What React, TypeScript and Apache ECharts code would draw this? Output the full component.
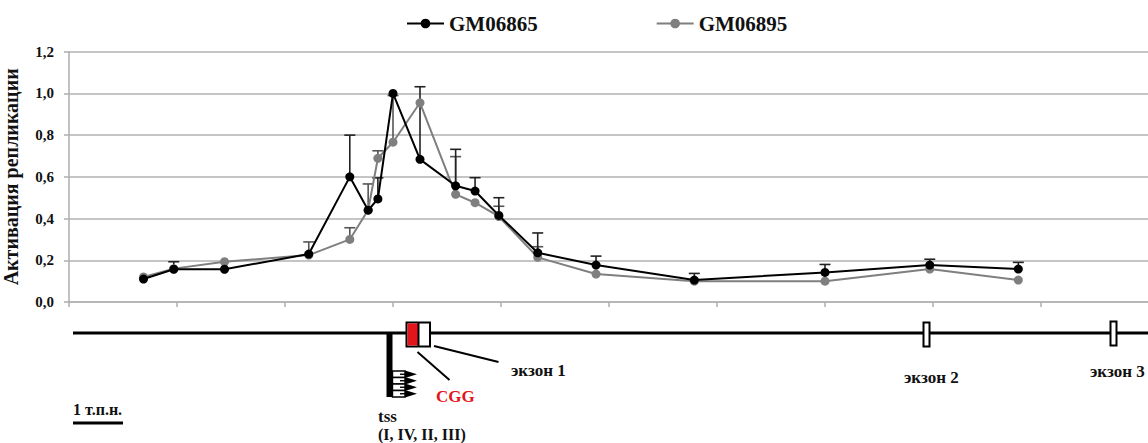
import React, { useEffect, useRef } from "react";
import * as echarts from "echarts";

// Positions along the locus, in axis-tick units
const positions = [0.69, 0.97, 1.44, 2.22, 2.6, 2.77, 2.86, 3.0, 3.25, 3.58, 3.76, 3.98, 4.34, 4.88, 5.79, 7.0, 7.97, 8.79];

// Replication initiation, GM06865 (black)
const gm06865 = [0.11, 0.157, 0.157, 0.23, 0.6, 0.44, 0.494, 1.0, 0.684, 0.557, 0.532, 0.415, 0.236, 0.177, 0.105, 0.142, 0.177, 0.158];
const gm06865Upper = [null, 0.193, null, null, 0.8, null, 0.595, null, 1.032, 0.732, 0.596, 0.5, 0.331, 0.22, 0.137, 0.18, 0.205, 0.19];

// Replication initiation, GM06895 (grey)
const gm06895 = [0.12, 0.16, 0.193, 0.225, 0.3, 0.441, 0.689, 0.766, 0.955, 0.516, 0.476, 0.41, 0.214, 0.134, 0.1, 0.1, 0.158, 0.105];
const gm06895Upper = [null, null, null, 0.288, 0.356, 0.566, 0.725, 0.99, null, 0.697, null, 0.459, 0.265, null, null, null, null, null];

const yTicks = [0, 0.2, 0.4, 0.6, 0.8, 1.0, 1.2];

const SERIF = "'Liberation Serif', 'DejaVu Serif', serif";
const BLACK = "#000000";
const GREY = "#7f7f7f";
const GRIDC = "#b2b2b2";

function pairs(vals: number[]) {
  return positions.map((x, i) => [x, vals[i]]);
}

function errData(vals: number[], upper: (number | null)[]) {
  const out: number[][] = [];
  positions.forEach((x, i) => {
    const u = upper[i];
    if (u != null) out.push([x, vals[i], u]);
  });
  return out;
}

function errorSeries(data: number[][], color: string) {
  return {
    type: "custom",
    z: 1,
    silent: true,
    data,
    encode: { x: 0, y: [1, 2] },
    renderItem: (_p: any, api: any) => {
      const x = api.value(0);
      const p0 = api.coord([x, api.value(1)]);
      const p1 = api.coord([x, api.value(2)]);
      const st = { stroke: color, lineWidth: 1.6 };
      return {
        type: "group",
        children: [
          { type: "line", shape: { x1: p0[0], y1: p0[1], x2: p1[0], y2: p1[1] }, style: st },
          { type: "line", shape: { x1: p1[0] - 5.5, y1: p1[1], x2: p1[0] + 5.5, y2: p1[1] }, style: st },
        ],
      };
    },
  };
}

const txt = (x: number, y: number, text: string, size: number, extra: any = {}) => ({
  type: "text",
  x,
  y,
  style: {
    text,
    fontFamily: SERIF,
    fontWeight: "bold",
    fontSize: size,
    fill: "#111",
    textVerticalAlign: "middle",
    ...extra,
  },
});

function geneMap() {
  const els: any[] = [];
  // genomic line
  els.push({ type: "line", shape: { x1: 73, y1: 333, x2: 1148, y2: 333 }, style: { stroke: BLACK, lineWidth: 3 } });
  // transcription start sites
  els.push({ type: "rect", shape: { x: 386.5, y: 333, width: 6, height: 64 }, style: { fill: BLACK } });
  const rowsY = [371, 377.5, 384, 390.5];
  rowsY.forEach((y) => {
    els.push({ type: "rect", shape: { x: 392.5, y, width: 12.5, height: 6.5 }, style: { fill: "#fff", stroke: BLACK, lineWidth: 1.4 } });
    const cy = y + 3.25;
    els.push({ type: "line", shape: { x1: 400, y1: cy, x2: 410, y2: cy }, style: { stroke: BLACK, lineWidth: 1.4 } });
    els.push({ type: "polygon", shape: { points: [[405, cy - 3.8], [417, cy], [405, cy + 3.8]] }, style: { fill: BLACK } });
  });
  // exon 1 with CGG repeat
  els.push({ type: "rect", shape: { x: 406.5, y: 322.5, width: 23.5, height: 24 }, style: { fill: "#fff", stroke: BLACK, lineWidth: 2 } });
  els.push({ type: "rect", shape: { x: 407.5, y: 323.5, width: 10.5, height: 22 }, style: { fill: "#e3151c" } });
  els.push({ type: "line", shape: { x1: 418.5, y1: 323, x2: 418.5, y2: 346 }, style: { stroke: BLACK, lineWidth: 2 } });
  // callout lines
  els.push({ type: "line", shape: { x1: 417.5, y1: 352, x2: 449.5, y2: 380 }, style: { stroke: BLACK, lineWidth: 2 } });
  els.push({ type: "line", shape: { x1: 434, y1: 346, x2: 498.5, y2: 362 }, style: { stroke: BLACK, lineWidth: 2 } });
  // exons 2 and 3
  els.push({ type: "rect", shape: { x: 923.5, y: 322.5, width: 6, height: 24 }, style: { fill: "#fff", stroke: BLACK, lineWidth: 2 } });
  els.push({ type: "rect", shape: { x: 1110.5, y: 321.5, width: 6, height: 24 }, style: { fill: "#fff", stroke: BLACK, lineWidth: 2 } });
  // labels
  els.push(txt(511, 370, "экзон 1", 17));
  els.push(txt(904, 377, "экзон 2", 17));
  els.push(txt(1090, 371, "экзон 3", 17));
  els.push(txt(436, 396, "CGG", 17, { fill: "#e3151c" }));
  els.push(txt(378, 416, "tss", 17));
  els.push(txt(378, 434, "(I, IV, II, III)", 16));
  els.push(txt(73, 409, "1 т.п.н.", 16));
  // scale bar
  els.push({ type: "line", shape: { x1: 73, y1: 423, x2: 123, y2: 423 }, style: { stroke: BLACK, lineWidth: 3 } });
  return els;
}

export default function App() {
  const ref = useRef<HTMLDivElement>(null);

  useEffect(() => {
    if (!ref.current) return;
    const chart = echarts.init(ref.current, null, { renderer: "svg" });
    chart.setOption({
      animation: false,
      backgroundColor: "#ffffff",
      textStyle: { fontFamily: SERIF },
      legend: {
        left: 401,
        top: 8,
        itemWidth: 37,
        itemHeight: 12,
        itemGap: 118,
        textStyle: { fontFamily: SERIF, fontWeight: "bold", fontSize: 21, color: "#111" },
        data: ["GM06865", "GM06895"],
      },
      grid: {
        left: 69,
        top: 51.7,
        width: 1080,
        height: 250.3,
        containLabel: false,
        outerBoundsMode: "none",
      },
      xAxis: {
        type: "value",
        min: 0,
        max: 10,
        interval: 1,
        axisLine: { show: true, onZero: false, lineStyle: { color: GRIDC, width: 1.6 } },
        axisTick: { show: true, length: 5, lineStyle: { color: GRIDC, width: 1.6 } },
        axisLabel: { show: false },
        splitLine: { show: false },
      },
      yAxis: {
        type: "value",
        min: yTicks[0],
        max: yTicks[yTicks.length - 1],
        interval: 0.2,
        name: "Активация репликации",
        nameLocation: "middle",
        nameRotate: 90,
        nameGap: 48,
        nameTextStyle: { fontFamily: SERIF, fontWeight: "bold", fontSize: 20, color: "#111" },
        axisLine: { show: true, lineStyle: { color: GRIDC, width: 1.6 } },
        axisTick: { show: true, length: 5, lineStyle: { color: GRIDC, width: 1.6 } },
        axisLabel: {
          margin: 15,
          fontFamily: SERIF,
          fontWeight: "bold",
          fontSize: 15,
          color: "#111",
          formatter: (v: number) => v.toFixed(1).replace(".", ","),
        },
        splitLine: { show: true, lineStyle: { color: GRIDC, width: 1.6 } },
      },
      series: [
        errorSeries(errData(gm06895, gm06895Upper), "#555555"),
        errorSeries(errData(gm06865, gm06865Upper), "#222222"),
        {
          name: "GM06895",
          type: "line",
          z: 3,
          data: pairs(gm06895),
          symbol: "circle",
          symbolSize: 9,
          itemStyle: { color: GREY },
          lineStyle: { color: GREY, width: 2 },
        },
        {
          name: "GM06865",
          type: "line",
          z: 4,
          data: pairs(gm06865),
          symbol: "circle",
          symbolSize: 9,
          itemStyle: { color: BLACK },
          lineStyle: { color: BLACK, width: 2 },
        },
      ],
      graphic: geneMap(),
    });
    return () => chart.dispose();
  }, []);

  return (
    <div
      ref={ref}
      style={{ position: "fixed", left: 0, top: 0, width: 1148, height: 443, background: "#fff" }}
    />
  );
}
